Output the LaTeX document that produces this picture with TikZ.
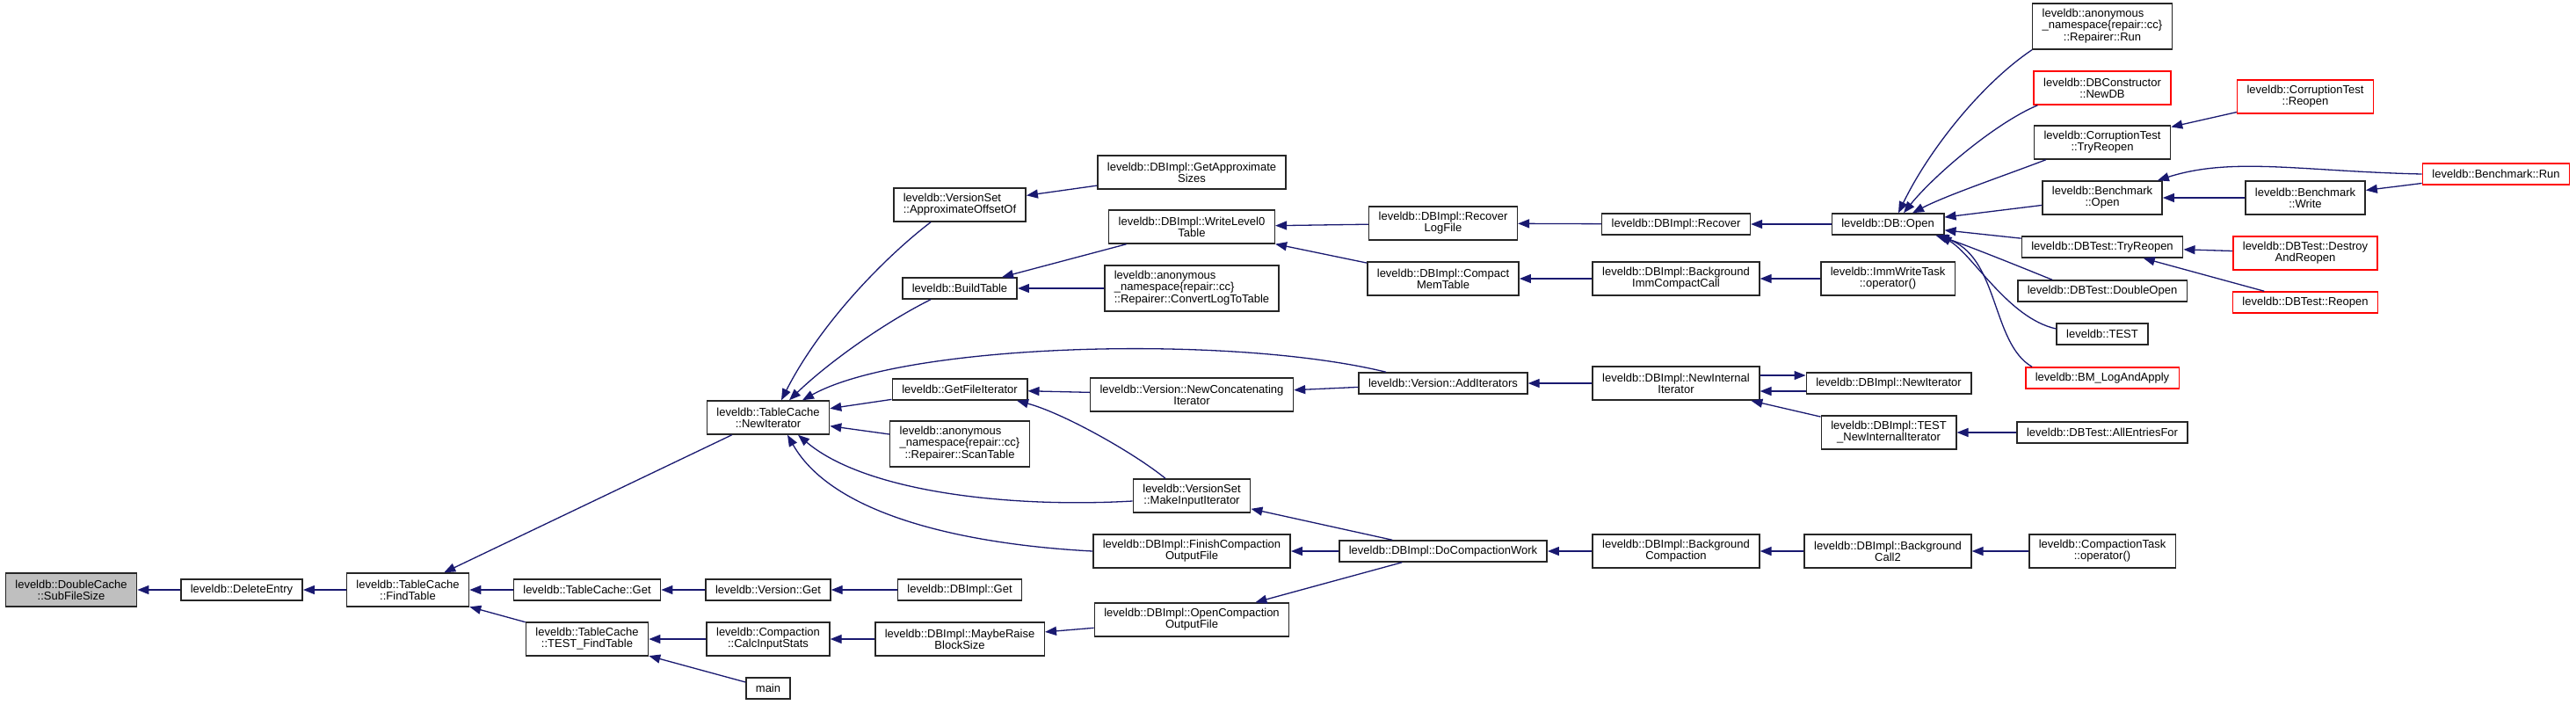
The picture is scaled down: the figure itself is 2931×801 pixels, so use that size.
\documentclass[tikz,border=0pt]{standalone}
\usepackage{fontspec}
\setmainfont{Liberation Sans}
\usetikzlibrary{arrows.meta}

\definecolor{edgeblue}{HTML}{191970}
\definecolor{trunc}{HTML}{FF0000}
\definecolor{rootgray}{HTML}{BFBFBF}

\newcommand{\anonns}[1]{\begin{tabular}{@{}l@{}}leveldb::anonymous\\\_namespace\{repair::cc\}\\\multicolumn{1}{@{}c@{}}{#1}\end{tabular}}

\tikzset{
  fn/.style={draw=black!85, line width=1.5pt, fill=white, align=center, inner xsep=11pt, inner ysep=0pt, minimum height=24pt, font=\fontsize{13}{13}\selectfont},
  fn2/.style={fn, minimum height=38pt},
  fn3/.style={fn, minimum height=52pt},
  nodoc/.style={draw=trunc},
  root/.style={fill=rootgray},
  call/.style={edgeblue, line width=1.3pt}
}

\begin{document}
\begin{tikzpicture}[x=1pt, y=-1pt, >={Triangle[length=13pt, width=10pt]}]
\useasboundingbox (0, 0) rectangle (2931, 801);

\node[fn2, root] (sub) at (81, 671) {leveldb::DoubleCache\\::SubFileSize};
\node[fn] (del) at (275, 671) {leveldb::DeleteEntry};
\node[fn2] (find) at (464, 671) {leveldb::TableCache\\::FindTable};
\node[fn] (tcget) at (668, 671) {leveldb::TableCache::Get};
\node[fn2] (testfind) at (668, 727) {leveldb::TableCache\\::TEST\_FindTable};
\node[fn2] (newit) at (874, 475) {leveldb::TableCache\\::NewIterator};
\node[fn] (verget) at (874, 671) {leveldb::Version::Get};
\node[fn2] (calc) at (874, 727) {leveldb::Compaction\\::CalcInputStats};
\node[fn] (main) at (874, 783) {main};
\node[fn2, align=left] (approx) at (1092, 233) {leveldb::VersionSet\\::ApproximateOffsetOf};
\node[fn] (build) at (1092, 328) {leveldb::BuildTable};
\node[fn] (getfile) at (1092, 443) {leveldb::GetFileIterator};
\node[fn3] (scan) at (1092, 505) {\anonns{::Repairer::ScanTable}};
\node[fn] (dbget) at (1092, 671) {leveldb::DBImpl::Get};
\node[fn2] (raise) at (1092, 727) {leveldb::DBImpl::MaybeRaise\\BlockSize};
\node[fn2] (sizes) at (1356, 196) {leveldb::DBImpl::GetApproximate\\Sizes};
\node[fn2] (wl0) at (1356, 258) {leveldb::DBImpl::WriteLevel0\\Table};
\node[fn3] (convert) at (1356, 328) {\anonns{::Repairer::ConvertLogToTable}};
\node[fn2] (concat) at (1356, 449) {leveldb::Version::NewConcatenating\\Iterator};
\node[fn2] (mkinput) at (1356, 564) {leveldb::VersionSet\\::MakeInputIterator};
\node[fn2] (finish) at (1356, 627) {leveldb::DBImpl::FinishCompaction\\OutputFile};
\node[fn2] (opencomp) at (1356, 705) {leveldb::DBImpl::OpenCompaction\\OutputFile};
\node[fn2] (recoverlog) at (1642, 254) {leveldb::DBImpl::Recover\\LogFile};
\node[fn2] (compactmem) at (1642, 317) {leveldb::DBImpl::Compact\\MemTable};
\node[fn] (additer) at (1642, 436) {leveldb::Version::AddIterators};
\node[fn] (docomp) at (1642, 627) {leveldb::DBImpl::DoCompactionWork};
\node[fn] (recover) at (1907, 255) {leveldb::DBImpl::Recover};
\node[fn2] (bgimm) at (1907, 317) {leveldb::DBImpl::Background\\ImmCompactCall};
\node[fn2] (newint) at (1907, 436) {leveldb::DBImpl::NewInternal\\Iterator};
\node[fn2] (bgcomp) at (1907, 627) {leveldb::DBImpl::Background\\Compaction};
\node[fn] (dbopen) at (2148, 255) {leveldb::DB::Open};
\node[fn2] (immtask) at (2148, 317) {leveldb::ImmWriteTask\\::operator()};
\node[fn] (dbnewit) at (2149, 436) {leveldb::DBImpl::NewIterator};
\node[fn2] (testnewint) at (2149, 492) {leveldb::DBImpl::TEST\\\_NewInternalIterator};
\node[fn2] (bgcall2) at (2148, 627) {leveldb::DBImpl::Background\\Call2};
\node[fn3] (run) at (2392, 30) {\anonns{::Repairer::Run}};
\node[fn2, nodoc] (newdb) at (2392, 100) {leveldb::DBConstructor\\::NewDB};
\node[fn2] (ctryreopen) at (2392, 162) {leveldb::CorruptionTest\\::TryReopen};
\node[fn2] (bopen) at (2392, 225) {leveldb::Benchmark\\::Open};
\node[fn] (dtryreopen) at (2392, 281) {leveldb::DBTest::TryReopen};
\node[fn] (dopen2) at (2392, 331) {leveldb::DBTest::DoubleOpen};
\node[fn] (test) at (2392, 380) {leveldb::TEST};
\node[fn, nodoc] (bmlog) at (2392, 430) {leveldb::BM\_LogAndApply};
\node[fn] (allent) at (2392, 492) {leveldb::DBTest::AllEntriesFor};
\node[fn2] (ctask) at (2392, 627) {leveldb::CompactionTask\\::operator()};
\node[fn2, nodoc] (creopen) at (2623, 110) {leveldb::CorruptionTest\\::Reopen};
\node[fn2] (bwrite) at (2623, 225) {leveldb::Benchmark\\::Write};
\node[fn2, nodoc] (destroy) at (2623, 288) {leveldb::DBTest::Destroy\\AndReopen};
\node[fn, nodoc] (dreopen) at (2623, 344) {leveldb::DBTest::Reopen};
\node[fn, nodoc] (brun) at (2840, 198) {leveldb::Benchmark::Run};

\draw[call, ->] (del) -- (sub);
\draw[call, ->] (find) -- (del);
\draw[call, ->] (newit) -- (find);
\draw[call, ->] (tcget) -- (find);
\draw[call, ->] (testfind) -- (find);
\draw[call, ->] (verget) -- (tcget);
\draw[call, ->] (calc) -- (testfind);
\draw[call, ->] (main) -- (testfind);
\draw[call, ->] ([xshift=-33pt]approx.south) .. controls (1010, 290) and (935, 365) .. ([xshift=15pt]newit.north);
\draw[call, ->] ([xshift=-33pt]build.south) .. controls (1010, 365) and (945, 410) .. ([xshift=24pt]newit.north);
\draw[call, ->] ([xshift=-65pt]additer.north) .. controls (1400, 380) and (1030, 390) .. ([xshift=39pt]newit.north);
\draw[call, ->] (getfile) -- (newit);
\draw[call, ->] (scan) -- (newit);
\draw[call, ->] ([yshift=-6pt]mkinput.west) .. controls (1150, 578) and (985, 560) .. ([xshift=34pt]newit.south);
\draw[call, ->] (finish.west) .. controls (1110, 620) and (950, 590) .. ([xshift=22pt]newit.south);
\draw[call, ->] (dbget) -- (verget);
\draw[call, ->] (raise) -- (calc);
\draw[call, ->] (sizes) -- (approx);
\draw[call, ->] (wl0) -- (build);
\draw[call, ->] (convert) -- (build);
\draw[call, ->] (concat) -- (getfile);
\draw[call, ->] ([xshift=-30pt]mkinput.north) .. controls (1290, 515) and (1210, 470) .. ([xshift=65pt]getfile.south);
\draw[call, ->] (opencomp) -- (raise);
\draw[call, ->] (recoverlog) -- (wl0);
\draw[call, ->] (compactmem) -- (wl0);
\draw[call, ->] (additer) -- (concat);
\draw[call, ->] (docomp) -- (mkinput);
\draw[call, ->] (docomp) -- (finish);
\draw[call, ->] (docomp) -- (opencomp);
\draw[call, ->] (recover) -- (recoverlog);
\draw[call, ->] (bgimm) -- (compactmem);
\draw[call, ->] (newint) -- (additer);
\draw[call, ->] (bgcomp) -- (docomp);
\draw[call, ->] (dbopen) -- (recover);
\draw[call, ->] (immtask) -- (bgimm);
\draw[call, ->] ([yshift=9pt]newint.east) -- ([yshift=9pt]dbnewit.west);
\draw[call, ->] ([yshift=-9pt]dbnewit.west) -- ([yshift=-9pt]newint.east);
\draw[call, ->] (testnewint) -- (newint);
\draw[call, ->] (allent) -- (testnewint);
\draw[call, ->] (bgcall2) -- (bgcomp);
\draw[call, ->] (ctask) -- (bgcall2);
\draw[call, ->] (run.south west) .. controls (2255, 95) and (2195, 170) .. ([xshift=12pt]dbopen.north);
\draw[call, ->] ([xshift=5pt]newdb.south west) .. controls (2270, 140) and (2200, 200) .. ([xshift=18pt]dbopen.north);
\draw[call, ->] ([xshift=14pt]ctryreopen.south west) .. controls (2280, 200) and (2215, 222) .. ([xshift=28pt]dbopen.north);
\draw[call, ->] (bopen) -- (dbopen);
\draw[call, ->] (dtryreopen) -- (dbopen);
\draw[call, ->] ([xshift=40pt]dopen2.north west) .. controls (2290, 300) and (2240, 280) .. ([xshift=-8pt]dbopen.south east);
\draw[call, ->] ([yshift=6pt]test.west) .. controls (2285, 362) and (2245, 290) .. ([xshift=-5pt]dbopen.south east);
\draw[call, ->] ([xshift=8pt]bmlog.north west) .. controls (2265, 390) and (2275, 290) .. ([xshift=-10pt]dbopen.south east);
\draw[call, ->] (creopen) -- (ctryreopen);
\draw[call, ->] (brun.west) .. controls (2620, 195) and (2540, 178) .. ([xshift=-6pt]bopen.north east);
\draw[call, ->] (bwrite) -- (bopen);
\draw[call, ->] (brun) -- (bwrite);
\draw[call, ->] (destroy) -- (dtryreopen);
\draw[call, ->] (dreopen) -- (dtryreopen);
\end{tikzpicture}
\end{document}
